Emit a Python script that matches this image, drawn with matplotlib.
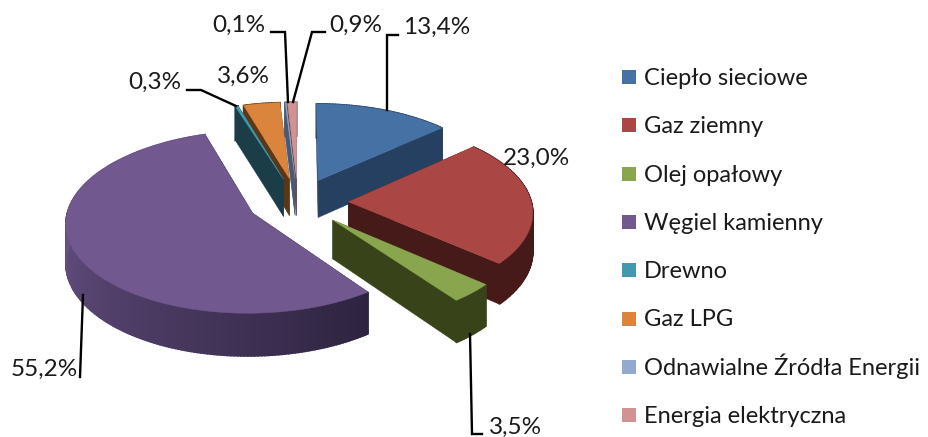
import numpy as np
import matplotlib
matplotlib.use('Agg')
import matplotlib.pyplot as plt
from matplotlib.patches import Rectangle
from matplotlib.colors import to_rgb

# struktura zrodel ciepla, wykres kolowy 3D
names = ['Ciepło sieciowe', 'Gaz ziemny', 'Olej opałowy', 'Węgiel kamienny',
         'Drewno', 'Gaz LPG', 'Odnawialne Źródła Energii', 'Energia elektryczna']
values = [13.4, 23.0, 3.5, 55.2, 0.3, 3.6, 0.1, 0.9]
labels = ['13,4%', '23,0%', '3,5%', '55,2%', '0,3%', '3,6%', '0,1%', '0,9%']

top_colors = ['#4571A4', '#AA4643', '#89A54E', '#71588F', '#4198AF', '#DB843D', '#93A9CF', '#D19392']
side_colors = ['#264061', '#451A18', '#384319', '#2E2340', '#1B3D47', '#5B3716', '#4A5A75', '#6E4A4A']

# parametry rzutu
x_0, y_0 = 298, 202
A, B = 183, 88     # polosie
D = 38             # grubosc
p = 0.098          # perspektywa
e = 0.275          # rozsuniecie


def project(u, v, z=0.0):
    w = 1 + p * v
    return x_0 + A * u / w, y_0 - B * v / w + D * z / w


def slice_point(th, mid, r=1.0, z=0.0):
    u = r * np.sin(th) + e * np.sin(mid)
    v = r * np.cos(th) + e * np.cos(mid)
    return project(u, v, z)


def draw_slice(ax, t_1, t_2, top, side, rim_light=None):
    mid = (t_1 + t_2) / 2
    # sciany boczne
    for th in (t_1, t_2):
        x_a, y_a = slice_point(th, mid, 0.0)
        x_b, y_b = slice_point(th, mid, 1.0)
        x_c, y_c = slice_point(th, mid, 1.0, 1.0)
        x_d, y_d = slice_point(th, mid, 0.0, 1.0)
        ax.fill([x_a, x_b, x_c, x_d], [y_a, y_b, y_c, y_d], color=side, lw=0.3)

    # obrzeze
    n = max(int((t_2 - t_1) * 60), 2)
    ths = np.linspace(t_1, t_2, n + 1)
    c_dark = np.array(to_rgb(side))
    c_light = np.array(to_rgb(rim_light)) if rim_light else c_dark
    for i in range(n):
        xy = [slice_point(ths[i], mid, 1.0), slice_point(ths[i + 1], mid, 1.0),
              slice_point(ths[i + 1], mid, 1.0, 1.0), slice_point(ths[i], mid, 1.0, 1.0)]
        k = min((ths[i] - t_1) / (np.pi * 0.75), 1.0)
        ax.fill([q[0] for q in xy], [q[1] for q in xy],
                color=c_dark + (c_light - c_dark) * k, lw=1.2)

    # gora
    pts = [slice_point(th, mid) for th in ths]
    pts = [slice_point(t_1, mid, 0.0)] + pts
    ax.fill([q[0] for q in pts], [q[1] for q in pts], color=top, lw=0.3)


fig = plt.figure(figsize=(9.29, 4.37), dpi=100)
ax = fig.add_axes([0, 0, 1, 1])
ax.set_xlim(0, 929)
ax.set_ylim(437, 0)
ax.axis('off')

edges = np.concatenate([[0], np.cumsum(values)]) / np.sum(values) * 2 * np.pi

# kolejnosc malowania: od tylu do przodu
for i in [0, 7, 6, 5, 4, 1, 2, 3]:
    light = '#6A5487' if i == 3 else None
    draw_slice(ax, edges[i], edges[i + 1], top_colors[i], side_colors[i], light)

font = 'Lato'

# opisy
text_pos = [(403, 27), (503, 158), (489, 427), (11, 369), (128, 82), (217, 76), (212, 25), (329, 25)]
for s, (x, y) in zip(labels, text_pos):
    ax.text(x, y, s, fontsize=17.5, family=font, color='#1a1a1a', ha='left', va='center')

leaders = [
    ([398, 387, 387], [35, 35, 110]),
    ([482, 472, 470], [434, 434, 334]),
    ([80, 83], [377, 295]),
    ([187, 201, 236], [90, 90, 106]),
    ([271, 285, 288], [32, 32, 102]),
    ([325, 312, 293], [32, 32, 102]),
]
for xs, ys in leaders:
    ax.plot(xs, ys, color='black', lw=1.7, solid_joinstyle='miter')

# legenda
for i, (name, c) in enumerate(zip(names, top_colors)):
    y = 77 + 48.3 * i
    ax.add_patch(Rectangle((622, y - 7), 14, 14, facecolor=c, edgecolor='none'))
    ax.text(644, y + 8, name, fontsize=17.0, family=font, color='#1a1a1a', ha='left', va='baseline')

fig.savefig('out.png', dpi=100)
